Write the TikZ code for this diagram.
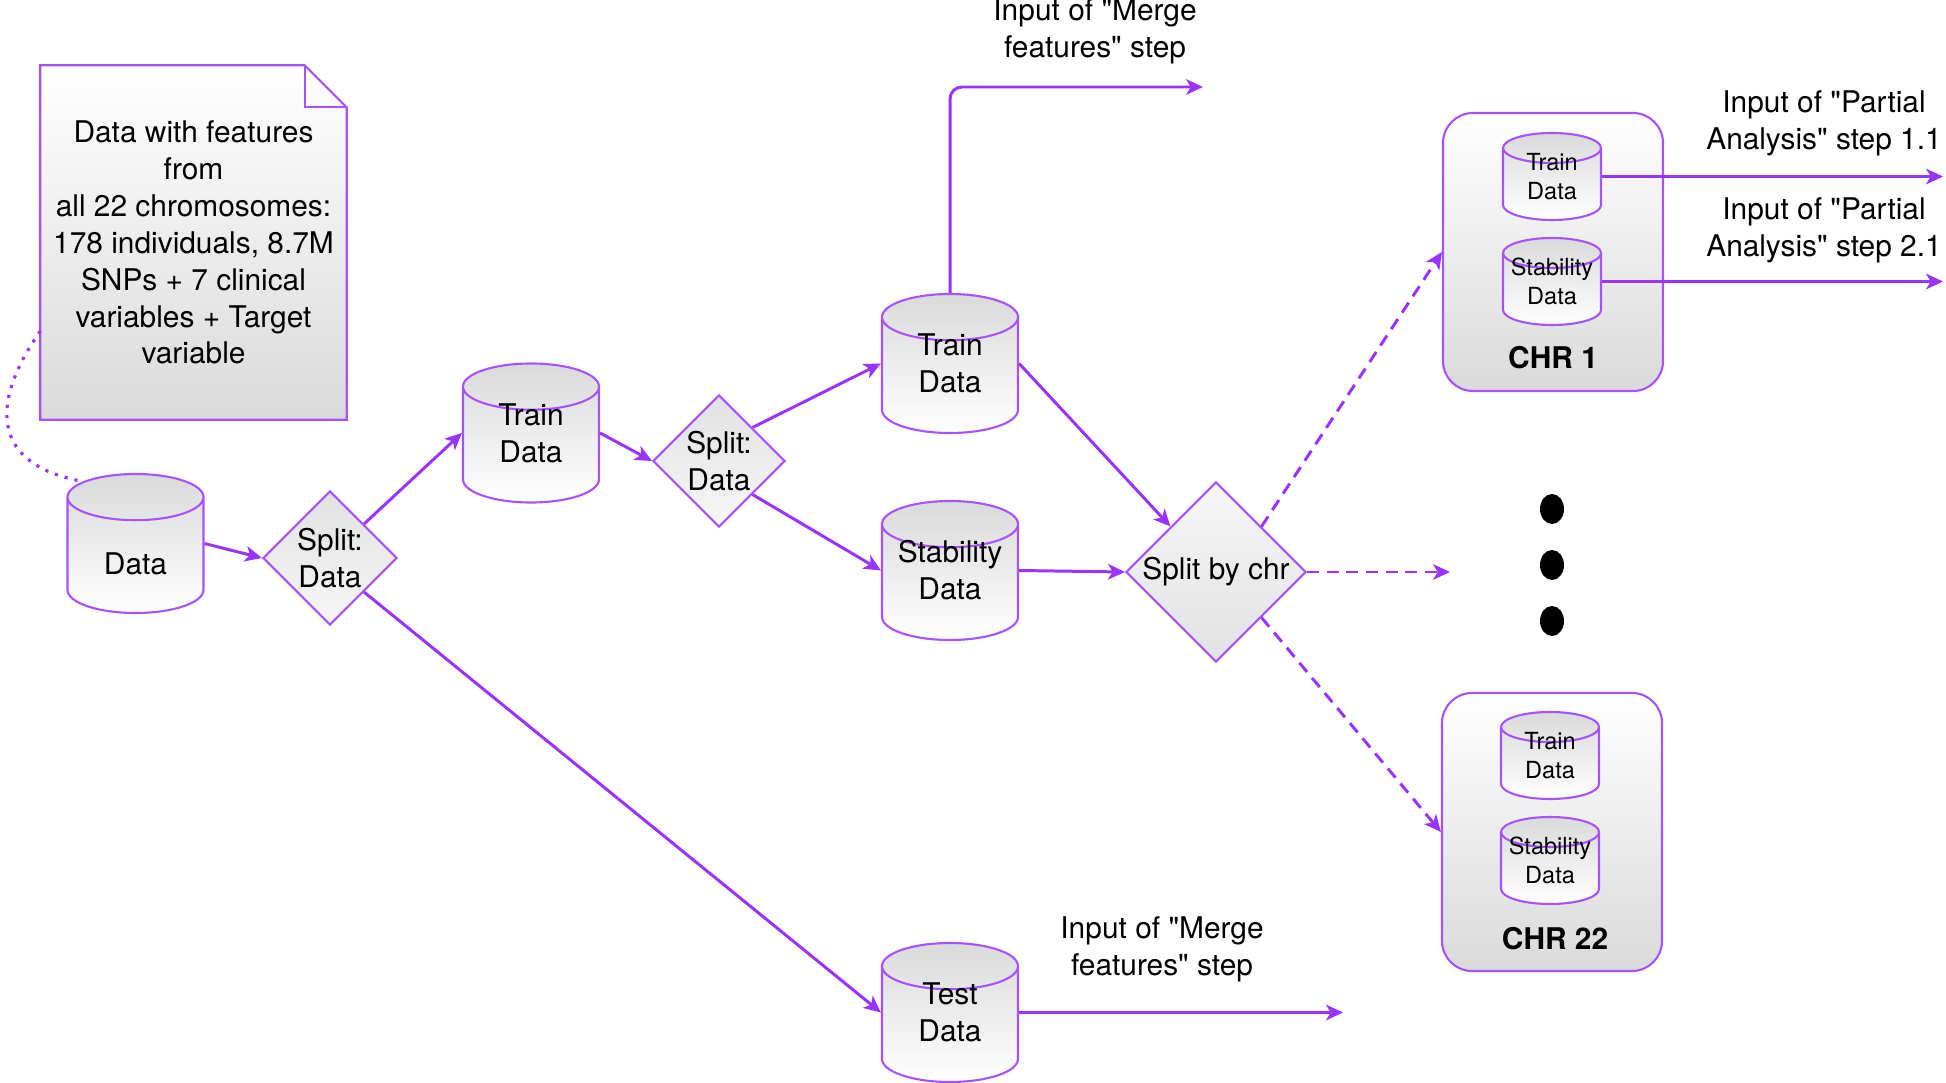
\documentclass[tikz,border=0pt]{standalone}
\usepackage{fontspec}
\setmainfont{TeX Gyre Heros}[Ligatures=TeXOff]
\usepackage{xcolor}
\usepackage{tikz}
\usetikzlibrary{shapes.geometric,arrows.meta,positioning,calc,backgrounds}
\definecolor{flowviolet}{HTML}{9933FF}
\definecolor{shadegray}{HTML}{DADADA}
\definecolor{lightgray2}{HTML}{F7F7F7}

\begin{document}
\begin{tikzpicture}[
	every node/.style={font=\fontsize{8.5}{10.5}\selectfont, align=center},
	datacyl/.style={cylinder, shape border rotate=90, aspect=0.77, inner sep=0.3cm, anchor=shape center, draw=flowviolet!85, line width=0.6pt, top color=shadegray, bottom color=white, minimum width=1.36cm, minimum height=1.39cm},
	smallcyl/.style={datacyl, aspect=0.75, inner sep=0.2cm, minimum width=0.98cm, minimum height=0.87cm},
	smalltxt/.style={font=\fontsize{6.7}{8.3}\selectfont, inner sep=0pt},
	splitnode/.style={diamond, aspect=1, draw=flowviolet!85, line width=0.6pt, top color=shadegray!80, bottom color=lightgray2, inner sep=0pt},
	chrbox/.style={rectangle, rounded corners=0.3cm, draw=flowviolet!85, line width=0.6pt, top color=white, bottom color=shadegray, minimum width=2.2cm, minimum height=2.78cm},
	chrlbl/.style={font=\fontsize{8.5}{10.5}\selectfont\bfseries, inner sep=0pt},
	flow/.style={-{Stealth[length=4.8pt,width=4.4pt,inset=1.3pt]}, flowviolet, line width=0.85pt},
	dashflow/.style={flow, dash pattern=on 3.4pt off 2.2pt},
	notelink/.style={flowviolet, line width=0.9pt, dotted},
]
	\useasboundingbox (0,0) rectangle (19.46,-10.83);
	
	% note with the data description
	\node[inner sep=0pt, minimum width=3.05cm, minimum height=3.53cm] (note) at (1.935,-2.425) {Data with features\\from\\all 22 chromosomes:\\178 individuals, 8.7M\\SNPs + 7 clinical\\variables + Target\\variable};
	\begin{scope}[on background layer]
		\shade[top color=white, bottom color=shadegray, draw=flowviolet!85, line width=0.6pt] (note.north west) -- ($(note.north east)+(-0.42,0)$) -- ($(note.north east)+(0,-0.42)$) -- (note.south east) -- (note.south west) -- cycle;
		\draw[flowviolet!85, line width=0.6pt] ($(note.north east)+(-0.42,0)$) |- ($(note.north east)+(0,-0.42)$);
	\end{scope}
	
	% data stores and splits
	\node[datacyl] (data) at (1.355,-5.435) {};
	\node (datatxt) at ($(data.shape center)+(0,-0.2)$) {Data};
	\node[splitnode, minimum size=1.34cm] (split1) at (3.30,-5.58) {Split:\\Data};
	\node[datacyl] (train1) at (5.31,-4.33) {};
	\node (train1txt) at (train1.shape center) {Train\\Data};
	\node[splitnode, minimum size=1.32cm] (split2) at (7.19,-4.61) {Split:\\Data};
	\node[datacyl] (train2) at (9.50,-3.635) {};
	\node (train2txt) at (train2.shape center) {Train\\Data};
	\node[datacyl] (stab) at (9.50,-5.705) {};
	\node (stabtxt) at (stab.shape center) {Stability\\Data};
	\node[datacyl] (test) at (9.50,-10.125) {};
	\node (testtxt) at (test.shape center) {Test\\Data};
	\node[splitnode, minimum size=1.80cm, top color=lightgray2, bottom color=shadegray!80] (splitchr) at (12.16,-5.72) {Split by chr};
	
	% chromosome boxes
	\node[chrbox] (chr1) at (15.53,-2.52) {};
	\node[smallcyl] (ctrain1) at (15.52,-1.765) {};
	\node[smalltxt] (ctrain1txt) at (ctrain1.shape center) {Train\\Data};
	\node[smallcyl] (cstab1) at (15.52,-2.815) {};
	\node[smalltxt] (cstab1txt) at (cstab1.shape center) {Stability\\Data};
	\node[chrlbl, above=0.22cm of chr1.south] (chr1lbl) {CHR 1};
	
	\node[chrbox] (chr22) at (15.52,-8.32) {};
	\node[smallcyl] (ctrain22) at (15.50,-7.555) {};
	\node[smalltxt] (ctrain22txt) at (ctrain22.shape center) {Train\\Data};
	\node[smallcyl] (cstab22) at (15.50,-8.605) {};
	\node[smalltxt] (cstab22txt) at (cstab22.shape center) {Stability\\Data};
	\node[chrlbl, above=0.22cm of chr22.south, xshift=0.03cm] (chr22lbl) {CHR 22};
	
	\foreach \y in {-5.09,-5.65,-6.21}
		\fill (15.52,\y) ellipse (0.12 and 0.15);
	
	% outputs
	\node (mergetoplbl) at (10.95,-0.315) {Input of "Merge\\features" step};
	\node (mergebotlbl) at (11.62,-9.495) {Input of "Merge\\features" step};
	\node (pa11lbl) at (18.24,-1.235) {Input of "Partial\\Analysis" step 1.1};
	\node (pa21lbl) at (18.24,-2.30) {Input of "Partial\\Analysis" step 2.1};
	\coordinate (mergetop) at (12.03,-0.87);
	\coordinate (mergebot) at (13.43,-10.13);
	\coordinate (pa11) at (19.43,-1.765);
	\coordinate (pa21) at (19.43,-2.815);
	\coordinate (moreend) at (14.50,-5.72);
	\coordinate (datatop) at ($(data.shape center)+(-0.52,0.62)$);
	
	% connectors
	\draw[notelink] ($(note.south west)!0.25!(note.north west)$) to[out=235,in=170,looseness=1.5] (datatop);
	\draw[flow] (data.shape center -| data.east) -- (split1.west);
	\draw[flow] (split1.north east) -- (train1.shape center -| train1.west);
	\draw[flow] (split1.south east) -- (test.shape center -| test.west);
	\draw[flow] (train1.shape center -| train1.east) -- (split2.west);
	\draw[flow] (split2.north east) -- (train2.shape center -| train2.west);
	\draw[flow] (split2.south east) -- (stab.shape center -| stab.west);
	\draw[flow, rounded corners=0.12cm] (train2.north) |- (mergetop);
	\draw[flow] (train2.shape center -| train2.east) -- (splitchr.north west);
	\draw[flow] (stab.shape center -| stab.east) -- (splitchr.west);
	\draw[flow] (test.shape center -| test.east) -- (test.shape center -| mergebot);
	\draw[dashflow] (splitchr.north east) -- (chr1.west);
	\draw[dashflow] (splitchr.east) -- (moreend);
	\draw[dashflow] (splitchr.south east) -- (chr22.west);
	\draw[flow] (ctrain1.shape center -| ctrain1.east) -- (ctrain1.shape center -| pa11);
	\draw[flow] (cstab1.shape center -| cstab1.east) -- (cstab1.shape center -| pa21);
\end{tikzpicture}
\end{document}
